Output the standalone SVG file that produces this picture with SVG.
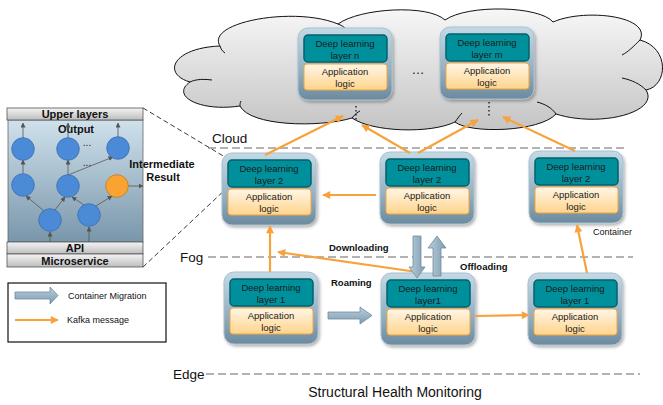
<svg xmlns="http://www.w3.org/2000/svg" xmlns:xlink="http://www.w3.org/1999/xlink" width="663" height="405" viewBox="0 0 663 405">
<defs>
<linearGradient id="gCloud" x1="0" y1="0" x2="0" y2="1"><stop offset="0" stop-color="#f7f7f7"/><stop offset="1" stop-color="#c4c4c4"/></linearGradient>
<linearGradient id="gOuter" x1="0" y1="0" x2="0" y2="1"><stop offset="0" stop-color="#c4dae6"/><stop offset="0.6" stop-color="#93afc0"/><stop offset="1" stop-color="#6c8a9e"/></linearGradient>
<linearGradient id="gApp" x1="0" y1="0" x2="0" y2="1"><stop offset="0" stop-color="#fff6e6"/><stop offset="1" stop-color="#ffd48c"/></linearGradient>
<linearGradient id="gBar" x1="0" y1="0" x2="0" y2="1"><stop offset="0" stop-color="#f4f4f4"/><stop offset="1" stop-color="#bdbdbd"/></linearGradient>
<linearGradient id="gBody" x1="0" y1="0" x2="0" y2="1"><stop offset="0" stop-color="#cfe1ec"/><stop offset="1" stop-color="#7996aa"/></linearGradient>
<linearGradient id="gBlock" x1="0" y1="0" x2="0" y2="1"><stop offset="0" stop-color="#b9cfdc"/><stop offset="1" stop-color="#7f9cb0"/></linearGradient>
<linearGradient id="gBlockH" x1="0" y1="0" x2="1" y2="0"><stop offset="0" stop-color="#b9cfdc"/><stop offset="1" stop-color="#7f9cb0"/></linearGradient>
<filter id="shadow" x="-10%" y="-10%" width="130%" height="130%"><feDropShadow dx="1.5" dy="2" stdDeviation="1.5" flood-color="#000" flood-opacity="0.3"/></filter>
<marker id="mOrange" viewBox="0 0 10 10" refX="9" refY="5" markerWidth="9" markerHeight="8" markerUnits="userSpaceOnUse" orient="auto"><path d="M0,0 L10,5 L0,10 Z" fill="#f7a23b"/></marker>
<marker id="mGray" viewBox="0 0 10 10" refX="9" refY="5" markerWidth="5" markerHeight="5" markerUnits="userSpaceOnUse" orient="auto"><path d="M0,0 L10,5 L0,10 Z" fill="#555"/></marker>
<g id="nodebase">
<rect x="0" y="0" width="94" height="72" rx="10" fill="url(#gOuter)" stroke="#a9c0cf" stroke-width="1" filter="url(#shadow)"/>
<rect x="6" y="7" width="83" height="27" rx="4" fill="#00909c" stroke="#05606a" stroke-width="1.5"/>
<rect x="6" y="36" width="83" height="26" rx="3" fill="url(#gApp)" stroke="#f0a540" stroke-width="1"/>
</g>
</defs>
<style>
.nt{font-family:"Liberation Sans",Arial,sans-serif;font-size:9.5px;fill:#1a1a1a;text-anchor:middle}
.tier{font-family:"Liberation Sans",Arial,sans-serif;font-size:13.5px;fill:#111}
.lbl{font-family:"Liberation Sans",Arial,sans-serif;font-size:9.5px;font-weight:bold;fill:#111}
.leg{font-family:"Liberation Sans",Arial,sans-serif;font-size:9px;fill:#111}
.pb{font-family:"Liberation Sans",Arial,sans-serif;font-size:11px;font-weight:bold;fill:#111;text-anchor:middle}
.dots{font-family:"Liberation Sans",Arial,sans-serif;font-size:10px;fill:#111;text-anchor:middle}
.tierline{stroke:#666;stroke-width:1;stroke-dasharray:8,4;fill:none}
.zoomline{stroke:#222;stroke-width:0.9;stroke-dasharray:5,3;fill:none}
.kafka{stroke:#f7a23b;stroke-width:2.2;fill:none;marker-end:url(#mOrange)}
.nn{stroke:#555;stroke-width:0.8;fill:none;marker-end:url(#mGray)}
.circ{fill:#4a8ad6;stroke:#3b6fae;stroke-width:0.8}
.block{stroke:#6e8ba0;stroke-width:0.8}
</style>

<!-- Cloud -->
<g id="cloud">
<path d="M 220,46 C 205,22 295,6 338,24 C 360,8 428,4 445,20 C 468,4 540,6 553,22 C 585,8 652,16 640,40 C 670,48 668,86 646,90 C 660,112 600,128 556,114 C 540,132 470,134 455,122 C 430,134 372,132 352,118 C 318,128 250,126 240,106 C 200,112 170,96 190,82 C 162,74 172,48 220,46 Z" fill="url(#gCloud)" stroke="#111" stroke-width="1"/>
<path d="M 220,46 C 221,49 222,51 225,53" fill="none" stroke="#111" stroke-width="1"/>
<path d="M 338,24 C 341,25 344,27 346,29" fill="none" stroke="#111" stroke-width="1"/>
<path d="M 190,82 C 196,79 204,79 212,80" fill="none" stroke="#111" stroke-width="1"/>
<path d="M 240,106 C 240,104 240,103 241,101" fill="none" stroke="#111" stroke-width="1"/>
<path d="M 352,118 C 355,114 358,112 360,111" fill="none" stroke="#111" stroke-width="1"/>
<path d="M 455,122 C 458,118 460,115 462,113" fill="none" stroke="#111" stroke-width="1"/>
<path d="M 556,114 C 552,108 545,104 537,102" fill="none" stroke="#111" stroke-width="1"/>
<path d="M 646,90 C 640,84 632,80 622,78" fill="none" stroke="#111" stroke-width="1"/>
<path d="M 640,40 C 634,46 628,52 622,55" fill="none" stroke="#111" stroke-width="1"/>
<text x="418" y="74" class="nt" style="font-size:13px">…</text>
<line x1="356" y1="106" x2="356" y2="121" stroke="#111" stroke-width="1.3" stroke-dasharray="1.5,2.5"/>
<line x1="489" y1="102" x2="489" y2="117" stroke="#111" stroke-width="1.3" stroke-dasharray="1.5,2.5"/>
</g>

<!-- Tier lines -->
<g id="tiers">
<text x="212" y="143" class="tier">Cloud</text>
<line x1="208" y1="148" x2="624" y2="148" class="tierline"/>
<text x="180" y="262" class="tier">Fog</text>
<line x1="208" y1="257" x2="633" y2="257" class="tierline"/>
<text x="173" y="379" class="tier">Edge</text>
<line x1="206" y1="374" x2="640" y2="374" class="tierline"/>
<text x="395" y="397" class="tier" style="font-size:14px" text-anchor="middle">Structural Health Monitoring</text>
<text x="593" y="235" class="leg">Container</text>
</g>

<!-- Zoom lines -->
<g id="zoomlines">
<line x1="143" y1="108" x2="230" y2="160" class="zoomline"/>
<line x1="143" y1="267" x2="228" y2="187" class="zoomline"/>
</g>

<!-- Nodes -->
<g id="node-cloud-n" transform="translate(298,28)"><use xlink:href="#nodebase"/>
<text x="47" y="19" class="nt">Deep learning</text><text x="47" y="30.5" class="nt">layer n</text>
<text x="47" y="47" class="nt">Application</text><text x="47" y="58.5" class="nt">logic</text></g>
<g id="node-cloud-m" transform="translate(440,27)"><use xlink:href="#nodebase"/>
<text x="47" y="19" class="nt">Deep learning</text><text x="47" y="30.5" class="nt">layer m</text>
<text x="47" y="47" class="nt">Application</text><text x="47" y="58.5" class="nt">logic</text></g>
<g id="node-fog-a" transform="translate(222,153)"><use xlink:href="#nodebase"/>
<text x="47" y="19" class="nt">Deep learning</text><text x="47" y="30.5" class="nt">layer 2</text>
<text x="47" y="47" class="nt">Application</text><text x="47" y="58.5" class="nt">logic</text></g>
<g id="node-fog-b" transform="translate(380,152)"><use xlink:href="#nodebase"/>
<text x="47" y="19" class="nt">Deep learning</text><text x="47" y="30.5" class="nt">layer 2</text>
<text x="47" y="47" class="nt">Application</text><text x="47" y="58.5" class="nt">logic</text></g>
<g id="node-fog-c" transform="translate(529,151)"><use xlink:href="#nodebase"/>
<text x="47" y="19" class="nt">Deep learning</text><text x="47" y="30.5" class="nt">layer 2</text>
<text x="47" y="47" class="nt">Application</text><text x="47" y="58.5" class="nt">logic</text></g>
<g id="node-edge-d" transform="translate(224,272)"><use xlink:href="#nodebase"/>
<text x="47" y="19" class="nt">Deep learning</text><text x="47" y="30.5" class="nt">layer 1</text>
<text x="47" y="47" class="nt">Application</text><text x="47" y="58.5" class="nt">logic</text></g>
<g id="node-edge-e" transform="translate(381,273)"><use xlink:href="#nodebase"/>
<text x="47" y="19" class="nt">Deep learning</text><text x="47" y="30.5" class="nt">layer1</text>
<text x="47" y="47" class="nt">Application</text><text x="47" y="58.5" class="nt">logic</text></g>
<g id="node-edge-f" transform="translate(528,273)"><use xlink:href="#nodebase"/>
<text x="47" y="19" class="nt">Deep learning</text><text x="47" y="30.5" class="nt">layer 1</text>
<text x="47" y="47" class="nt">Application</text><text x="47" y="58.5" class="nt">logic</text></g>

<!-- Connectors -->
<g id="connectors">
<line x1="265" y1="155" x2="343" y2="116" class="kafka"/>
<line x1="410" y1="153" x2="362" y2="125" class="kafka"/>
<line x1="418" y1="153" x2="478" y2="120" class="kafka"/>
<line x1="575" y1="151" x2="503" y2="117" class="kafka"/>
<line x1="376" y1="195" x2="323" y2="195" class="kafka"/>
<line x1="270" y1="272" x2="270" y2="226" class="kafka"/>
<line x1="417" y1="272" x2="278" y2="252" class="kafka"/>
<line x1="475" y1="316" x2="529" y2="315" class="kafka"/>
<line x1="587" y1="273" x2="577" y2="225" class="kafka"/>
<!-- container migration block arrows -->
<path d="M 413,236 L 421,236 L 421,267 L 425,267 L 417,278 L 409,267 L 413,267 Z" fill="url(#gBlockH)" class="block"/>
<path d="M 433,276 L 441,276 L 441,248 L 446,248 L 437,236 L 428,248 L 433,248 Z" fill="url(#gBlockH)" class="block"/>
<path d="M 328,312 L 360,312 L 360,307 L 372,315.5 L 360,324 L 360,319 L 328,319 Z" fill="url(#gBlock)" class="block"/>
<text x="329" y="251" class="lbl">Downloading</text>
<text x="460" y="270" class="lbl">Offloading</text>
<text x="331" y="286" class="lbl">Roaming</text>
</g>

<!-- Left panel -->
<g id="panel">
<rect x="8" y="120" width="135" height="122" fill="url(#gBody)" stroke="#666" stroke-width="0.8"/>
<rect x="7" y="108" width="136" height="12" fill="url(#gBar)" stroke="#555" stroke-width="0.8"/>
<rect x="7" y="242" width="136" height="12" fill="url(#gBar)" stroke="#555" stroke-width="0.8"/>
<rect x="7" y="254" width="136" height="13" fill="url(#gBar)" stroke="#555" stroke-width="0.8"/>
<text x="75" y="118" class="pb">Upper layers</text>
<text x="75" y="252" class="pb">API</text>
<text x="75" y="265" class="pb">Microservice</text>
<text x="76" y="133" class="pb">Output</text>
<text x="87" y="146" class="dots">...</text>
<text x="87" y="166" class="dots">...</text>
<line x1="23" y1="138" x2="23" y2="123" class="nn"/>
<line x1="68" y1="138" x2="68" y2="123" class="nn"/>
<line x1="118" y1="137" x2="118" y2="123" class="nn"/>
<line x1="23" y1="173" x2="23" y2="160" class="nn"/>
<line x1="68" y1="175" x2="68" y2="160" class="nn"/>
<line x1="68" y1="175" x2="113" y2="157" class="nn"/>
<line x1="44" y1="211" x2="26" y2="196" class="nn"/>
<line x1="55" y1="210" x2="65" y2="197" class="nn"/>
<line x1="84" y1="205" x2="72" y2="197" class="nn"/>
<line x1="96" y1="206" x2="112" y2="196" class="nn"/>
<line x1="128" y1="186" x2="143" y2="186" class="nn"/>
<line x1="50" y1="242" x2="50" y2="232" class="nn"/>
<line x1="89" y1="242" x2="89" y2="227" class="nn"/>
<circle cx="23" cy="149" r="11.3" class="circ"/>
<circle cx="68" cy="149" r="11.3" class="circ"/>
<circle cx="118" cy="148" r="11.3" class="circ"/>
<circle cx="23" cy="185" r="11.3" class="circ"/>
<circle cx="68" cy="186" r="11.3" class="circ"/>
<circle cx="117" cy="186" r="11.3" fill="#f9a432" stroke="#c27b1d" stroke-width="0.8"/>
<circle cx="50" cy="220" r="11.3" class="circ"/>
<circle cx="89" cy="215" r="11.3" class="circ"/>
<text x="162" y="168" class="pb">Intermediate</text>
<text x="163" y="181" class="pb">Result</text>
</g>

<!-- Legend -->
<g id="legend">
<rect x="8" y="283" width="158" height="59" fill="#fff" stroke="#111" stroke-width="1.2"/>
<path d="M 15,292 L 50,292 L 50,287 L 58,295.5 L 50,304 L 50,299 L 15,299 Z" fill="url(#gBlock)" class="block"/>
<text x="68" y="299" class="leg">Container Migration</text>
<line x1="15" y1="320" x2="58" y2="320" class="kafka"/>
<text x="67" y="323" class="leg">Kafka message</text>
</g>
</svg>
